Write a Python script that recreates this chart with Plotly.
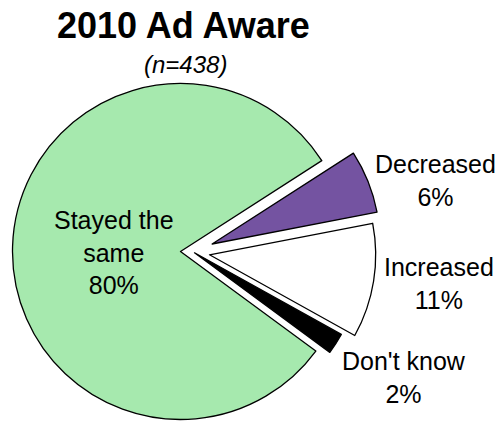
import plotly.graph_objects as go

# Survey responses
labels = ["Decreased", "Increased", "Don't know", "Stayed the same"]
values = [6, 11, 2, 80]
title_text = "2010 Ad Aware"
subtitle_text = "(n=438)"

# Styling
slice_colors = ["#7453A1", "#FFFFFF", "#000000", "#A6E9AE"]
FONT = "Liberation Sans, Arial, sans-serif"
W, H = 502, 421
CX, CY, R = 180.5, 251.5, 168.0          # pie centre / radius in px
ROTATION = 57.25                          # start angle of first slice (clockwise from 12 o'clock)
# explosion offsets (px) per slice, same order as labels
explode = [(31.6, -7.5), (29.0, 3.3), (14.0, 1.3), (0.0, 0.0)]
# label centres (px)
label_pos = [(435, 180), (439, 283), (404, 377), (114, 252)]

fig = go.Figure()

# each slice is its own pie trace so that exploded wedges keep the full radius
draw_order = [3, 0, 1, 2]
for i in draw_order:
    dx, dy = explode[i]
    cx, cy = CX + dx, CY + dy
    r = min(R, cx, W - cx, cy, H - cy)
    fills = ["rgba(0,0,0,0)"] * len(values)
    lines = ["rgba(0,0,0,0)"] * len(values)
    fills[i] = slice_colors[i]
    lines[i] = "#000000"
    fig.add_trace(go.Pie(
        labels=labels,
        values=values,
        sort=False,
        direction="clockwise",
        rotation=ROTATION,
        marker=dict(colors=fills, line=dict(color=lines, width=1.3)),
        textinfo="none",
        hoverinfo="skip",
        showlegend=False,
        domain=dict(x=[(cx - r) / W, (cx + r) / W],
                    y=[1 - (cy + r) / H, 1 - (cy - r) / H]),
    ))

annotations = [
    dict(text=f"<b>{title_text}</b>", x=183 / W, y=1 - 26 / H,
         font=dict(size=36, family=FONT, color="#000000")),
    dict(text=f"<i>{subtitle_text}</i>", x=185 / W, y=1 - 64 / H,
         font=dict(size=24, family=FONT, color="#000000")),
]
for i, lab in enumerate(labels):
    px, py = label_pos[i]
    text = lab if lab != "Stayed the same" else "Stayed the<br>same"
    annotations.append(dict(
        text=f"{text}<br>{values[i]}%", x=px / W, y=1 - py / H,
        font=dict(size=25, family=FONT, color="#000000"),
    ))
for a in annotations:
    a.update(xref="paper", yref="paper", xanchor="center", yanchor="middle",
             showarrow=False)

fig.update_layout(
    width=W, height=H,
    margin=dict(l=0, r=0, t=0, b=0),
    paper_bgcolor="#FFFFFF",
    plot_bgcolor="#FFFFFF",
    annotations=annotations,
)

fig.write_html("out.html")
